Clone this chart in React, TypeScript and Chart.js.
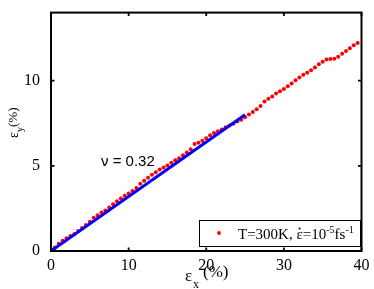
import { useEffect, useRef } from 'react';
import { Chart, registerables } from 'chart.js';

Chart.register(...registerables);

const strainX = [
  0, 0.5, 1, 1.5, 2, 2.5, 3, 3.5, 4, 4.5, 5, 5.5, 6, 6.5, 7, 7.5, 8, 8.5, 9, 9.5,
  10, 10.5, 11, 11.5, 12, 12.5, 13, 13.5, 14, 14.5, 15, 15.5, 16, 16.5, 17, 17.5, 18, 18.5, 19, 19.5,
  20, 20.5, 21, 21.5, 22, 22.5, 23, 23.5, 24, 24.5, 25, 25.5, 26, 26.5, 27, 27.5, 28, 28.5, 29, 29.5,
  30, 30.5, 31, 31.5, 32, 32.5, 33, 33.5, 34, 34.5, 35, 35.5, 36, 36.5, 37, 37.5, 38, 38.5, 39, 39.5,
];
const strainY = [
  0, 0.2, 0.42, 0.6, 0.75, 0.88, 1.0, 1.18, 1.35, 1.52, 1.72, 1.95, 2.1, 2.26, 2.38, 2.55, 2.74, 2.92, 3.08, 3.24,
  3.38, 3.52, 3.7, 3.95, 4.12, 4.3, 4.48, 4.63, 4.78, 4.9, 5.02, 5.18, 5.33, 5.45, 5.62, 5.78, 5.98, 6.28, 6.36, 6.47,
  6.62, 6.8, 6.93, 7.03, 7.13, 7.26, 7.37, 7.48, 7.6, 7.71, 7.86, 8.02, 8.17, 8.33, 8.52, 8.78, 8.94, 9.07, 9.25, 9.38,
  9.52, 9.68, 9.84, 10.03, 10.19, 10.35, 10.47, 10.62, 10.77, 10.96, 11.12, 11.24, 11.28, 11.29, 11.4, 11.58, 11.74, 11.9, 12.08, 12.22,
];
const fitX = [0, 25];
const fitY = [0, 8.0];
const xTickValues = [0, 10, 20, 30, 40];
const yTickValues = [0, 5, 10];
const poissonLabel = 'ν = 0.32';

const SERIF = '"Liberation Serif", "Times New Roman", serif';
const SANS = '"Liberation Sans", Arial, sans-serif';

const decor = {
  id: 'decor',
  afterDatasetsDraw(chart: any) {
    const { ctx, chartArea, scales } = chart;
    const { left, right, top, bottom } = chartArea;
    const xs = scales.x;
    const ys = scales.y;
    ctx.save();
    ctx.strokeStyle = '#000';
    ctx.lineWidth = 1.8;
    ctx.beginPath();
    for (const v of xTickValues) {
      const px = xs.getPixelForValue(v);
      ctx.moveTo(px, bottom);
      ctx.lineTo(px, bottom - 3.5);
      ctx.moveTo(px, top);
      ctx.lineTo(px, top + 3.5);
    }
    for (const v of yTickValues) {
      const py = ys.getPixelForValue(v);
      ctx.moveTo(left, py);
      ctx.lineTo(left + 3.5, py);
      ctx.moveTo(right, py);
      ctx.lineTo(right - 3.5, py);
    }
    ctx.stroke();
    ctx.lineWidth = 2;
    ctx.strokeRect(left, top, right - left, bottom - top);

    // annotation
    ctx.fillStyle = '#000';
    ctx.font = `15px ${SANS}`;
    ctx.textAlign = 'left';
    ctx.textBaseline = 'alphabetic';
    ctx.fillText(poissonLabel, 101, 166);

    // legend
    const lx0 = 199, ly0 = 220, lx1 = 360, ly1 = 246;
    ctx.fillStyle = '#fff';
    ctx.fillRect(lx0, ly0, lx1 - lx0, ly1 - ly0);
    ctx.lineWidth = 1;
    ctx.strokeStyle = '#000';
    ctx.strokeRect(lx0 + 0.5, ly0 + 0.5, lx1 - lx0, ly1 - ly0);
    ctx.fillStyle = '#ff0000';
    ctx.beginPath();
    ctx.arc(219, 233, 1.9, 0, Math.PI * 2);
    ctx.fill();
    ctx.fillStyle = '#000';
    let cx = 238;
    const base = 239;
    const put = (t: string, size: number, dy: number) => {
      ctx.font = `${size}px ${SERIF}`;
      ctx.fillText(t, cx, base + dy);
      cx += ctx.measureText(t).width;
    };
    put('T=300K, ', 15, 0);
    const ex = cx;
    put('ε', 15, 0);
    const ew = cx - ex;
    ctx.beginPath();
    ctx.arc(ex + ew / 2, base - 10.5, 1, 0, Math.PI * 2);
    ctx.fill();
    put('=10', 15, 0);
    put('-5', 10, -6);
    put('fs', 15, 0);
    put('-1', 10, -6);

    // x title
    ctx.font = `17px ${SERIF}`;
    ctx.fillText('ε', 185, 281);
    ctx.font = `12px ${SERIF}`;
    ctx.fillText('x', 193, 288);
    ctx.font = `17px ${SERIF}`;
    ctx.fillText('(%)', 203, 277);

    // y title
    ctx.save();
    ctx.translate(18, 138);
    ctx.rotate(-Math.PI / 2);
    ctx.font = `14px ${SERIF}`;
    ctx.fillText('ε', 0, 0);
    const w1 = ctx.measureText('ε').width;
    ctx.font = `10px ${SERIF}`;
    ctx.fillText('y', w1, 5);
    ctx.font = `13px ${SERIF}`;
    ctx.fillText('(%)', 11, -1);
    ctx.restore();

    ctx.restore();
  },
};

export default function App() {
  const ref = useRef<HTMLCanvasElement | null>(null);
  useEffect(() => {
    if (!ref.current) return;
    const chart = new Chart(ref.current, {
      type: 'scatter',
      data: {
        datasets: [
          {
            label: 'fit',
            data: fitX.map((x, i) => ({ x, y: fitY[i] })),
            showLine: true,
            borderColor: '#0000ff',
            borderWidth: 3,
            pointRadius: 0,
            order: 0,
          },
          {
            label: 'T=300K',
            data: strainX.map((x, i) => ({ x, y: strainY[i] })),
            showLine: false,
            backgroundColor: '#ff0000',
            borderWidth: 0,
            pointRadius: 2,
            order: 1,
          },
        ],
      },
      options: {
        animation: false,
        responsive: false,
        maintainAspectRatio: false,
        layout: { padding: { left: 0, right: 12.5, top: 10.5, bottom: 0 } },
        plugins: { legend: { display: false }, tooltip: { enabled: false } },
        scales: {
          x: {
            type: 'linear',
            min: 0,
            max: 40,
            grid: { display: false },
            border: { display: false },
            afterBuildTicks: (s: any) => { s.ticks = xTickValues.map((v) => ({ value: v })); },
            afterFit: (s: any) => { s.height = 38; },
            ticks: { color: '#000', font: { family: SERIF, size: 16 }, padding: -3, maxRotation: 0 },
          },
          y: {
            type: 'linear',
            min: 0,
            max: 14,
            grid: { display: false },
            border: { display: false },
            afterBuildTicks: (s: any) => { s.ticks = yTickValues.map((v) => ({ value: v })); },
            afterFit: (s: any) => { s.width = 51; },
            ticks: { color: '#000', font: { family: SERIF, size: 16 }, padding: 3 },
          },
        },
      },
      plugins: [decor],
    });
    return () => chart.destroy();
  }, []);
  return (
    <div style={{ position: 'absolute', left: 0, top: 0, width: 374, height: 289, background: '#fff' }}>
      <canvas ref={ref} width={374} height={289} style={{ width: 374, height: 289, display: 'block' }} />
    </div>
  );
}
